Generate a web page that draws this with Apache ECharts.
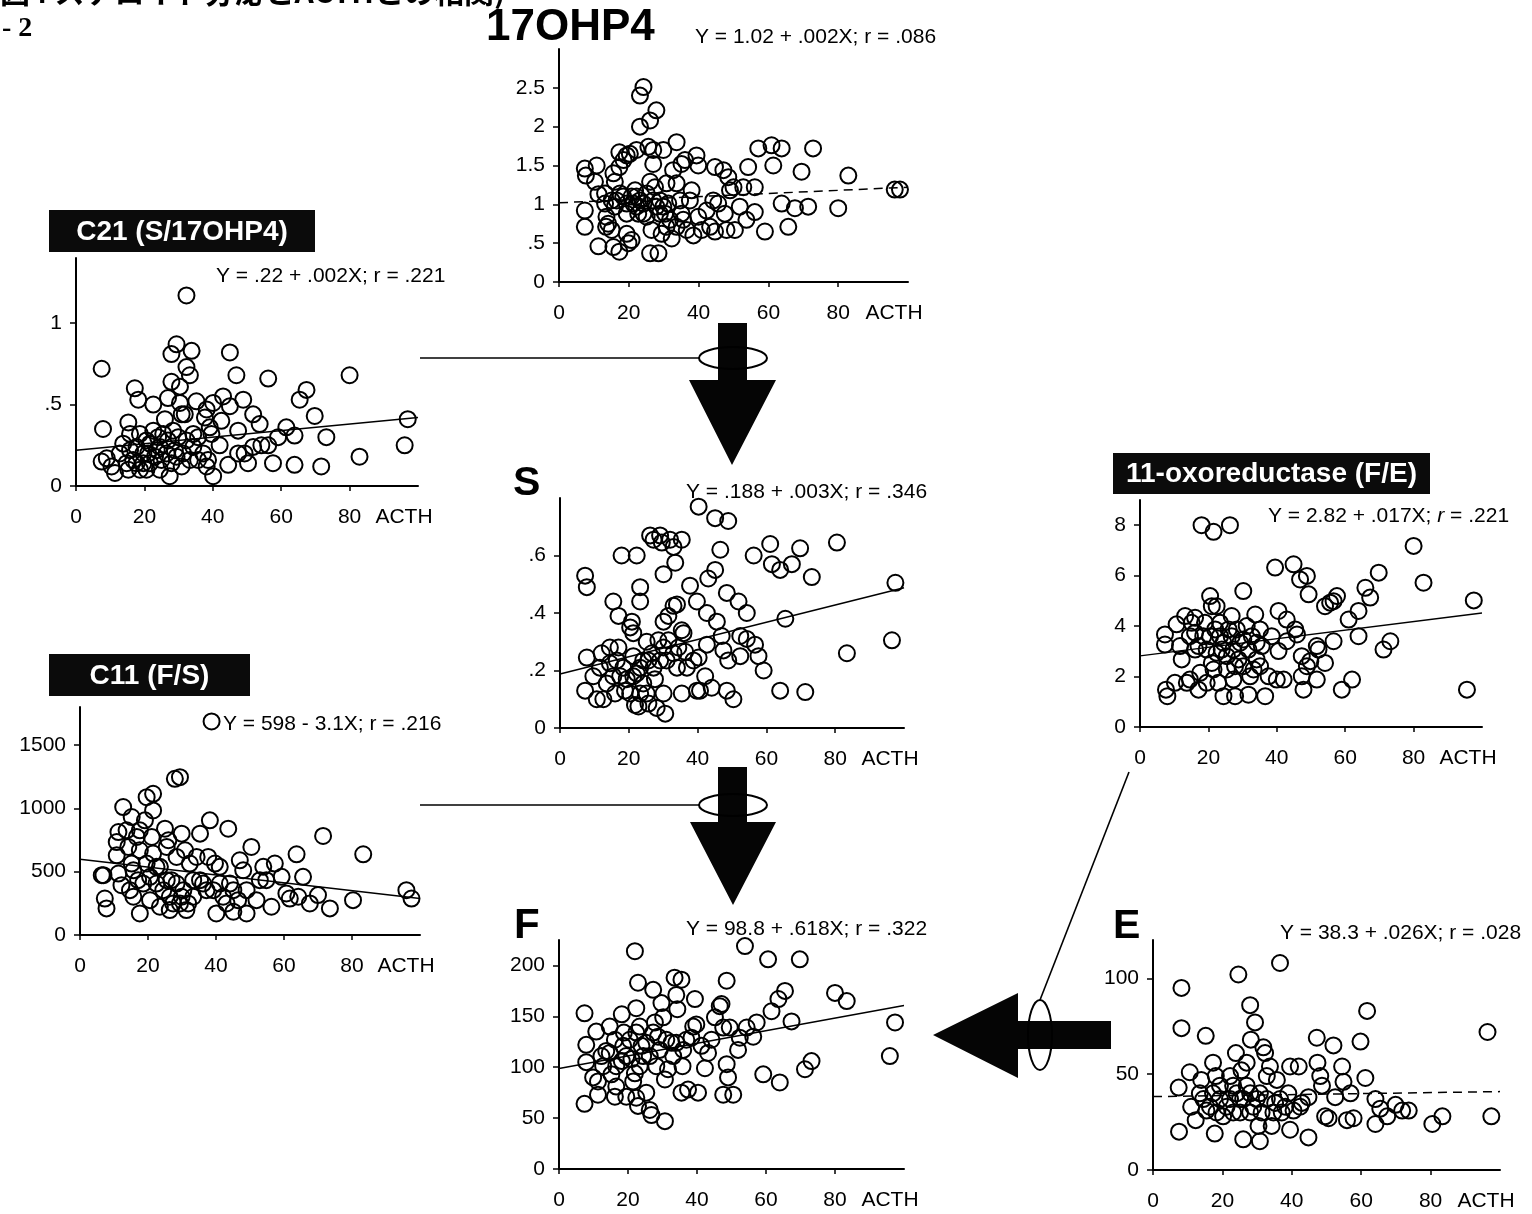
<!DOCTYPE html>
<html>
<head>
<meta charset="utf-8">
<script src="https://cdn.jsdelivr.net/npm/echarts@6/dist/echarts.min.js"></script>
<style>
html,body{margin:0;padding:0;background:#fff;overflow:hidden}
#chart{width:1532px;height:1214px}
</style>
</head>
<body>
<div id="chart"></div>
<script>
// ACTH (x) vs. hormone / enzyme-ratio (y) for each panel, as [ACTH, value] pairs.
const ohp17Points = [[7.4,1.46],[7.7,1.37],[7.4,0.92],[7.4,0.71],[10.8,1.50],[10.3,1.29],[11.3,1.13],[11.3,0.46],[13.2,1.14],[13.6,0.84],[14.1,0.75],[13.5,0.71],[15.1,0.67],[15.6,0.45],[17.3,0.39],[15.6,1.40],[16.0,1.29],[17.3,1.67],[17.3,1.48],[18.5,1.57],[19.4,1.63],[16.5,1.05],[16.0,0.97],[17.5,1.14],[19.4,1.01],[19.4,0.62],[19.9,0.50],[20.8,0.54],[20.3,1.65],[20.8,1.10],[21.8,1.18],[22.2,0.97],[22.2,1.70],[23.2,2.00],[23.2,2.40],[24.2,2.51],[23.2,1.05],[24.2,0.88],[25.1,1.14],[25.6,1.74],[26.1,2.08],[27.9,2.21],[27.0,1.70],[27.0,1.52],[26.1,1.29],[26.5,0.67],[26.1,0.37],[28.5,0.37],[27.9,0.97],[28.9,1.05],[29.9,1.70],[30.8,1.27],[30.4,0.88],[30.8,0.71],[32.3,0.56],[32.7,1.44],[33.7,1.80],[33.7,1.27],[34.7,1.05],[35.1,1.52],[35.6,0.80],[36.6,0.67],[36.1,1.57],[38.0,1.18],[38.5,0.60],[39.4,1.63],[39.9,1.50],[39.9,0.84],[40.9,0.67],[42.3,0.92],[43.3,0.71],[44.2,1.05],[44.7,1.48],[44.7,0.65],[45.6,1.01],[47.1,1.44],[47.5,0.88],[48.0,0.67],[48.5,1.35],[49.0,1.18],[50.0,1.22],[50.4,0.67],[51.8,0.97],[52.8,1.22],[53.7,0.80],[54.2,1.48],[56.1,1.22],[56.1,0.90],[57.1,1.72],[59.0,0.65],[60.9,1.76],[61.4,1.50],[63.8,1.72],[63.8,1.01],[65.7,0.71],[67.6,0.95],[69.5,1.42],[71.4,0.97],[72.8,1.72],[80.0,0.95],[82.9,1.37],[96.2,1.19],[97.7,1.19],[21.3,1.01],[22.2,1.10],[22.7,0.88],[24.2,1.01],[25.1,0.84],[27.0,1.05],[27.5,1.22],[28.9,0.88],[29.4,0.62],[29.9,0.97],[31.3,1.01],[31.8,0.80],[19.4,0.88],[18.4,1.10],[15.1,1.05],[13.2,1.01],[33.7,0.71],[35.1,0.88],[37.5,1.05]];

const c21Points = [[7.5,0.72],[7.9,0.35],[7.5,0.15],[9.0,0.17],[11.4,0.08],[10.4,0.12],[12.8,0.20],[15.3,0.39],[15.8,0.32],[17.2,0.60],[18.2,0.53],[14.8,0.14],[16.7,0.16],[17.7,0.24],[18.7,0.10],[19.7,0.20],[20.6,0.28],[21.6,0.14],[22.6,0.50],[22.6,0.34],[23.6,0.22],[24.5,0.10],[25.5,0.32],[26.0,0.41],[26.9,0.54],[27.4,0.06],[27.9,0.64],[27.9,0.81],[29.4,0.87],[28.4,0.34],[28.9,0.22],[30.4,0.61],[30.4,0.51],[30.9,0.44],[32.3,1.17],[32.3,0.73],[33.3,0.68],[33.8,0.83],[31.8,0.44],[32.3,0.28],[34.3,0.32],[35.2,0.52],[35.7,0.16],[37.7,0.42],[38.2,0.47],[38.6,0.16],[39.1,0.36],[39.6,0.32],[40.1,0.51],[40.1,0.06],[42.0,0.25],[42.5,0.40],[43.0,0.55],[44.5,0.13],[45.0,0.82],[45.0,0.49],[46.9,0.68],[47.4,0.34],[47.4,0.20],[48.9,0.53],[49.3,0.20],[50.3,0.14],[51.8,0.44],[51.8,0.24],[53.7,0.38],[54.2,0.25],[56.2,0.25],[56.2,0.66],[57.6,0.14],[59.1,0.30],[61.5,0.36],[63.9,0.31],[63.9,0.13],[65.4,0.53],[67.4,0.59],[69.8,0.43],[71.7,0.12],[73.2,0.30],[80.0,0.68],[82.9,0.18],[96.1,0.25],[97.0,0.41],[13.8,0.26],[15.8,0.22],[18.7,0.32],[19.7,0.14],[21.1,0.20],[23.1,0.18],[24.0,0.30],[25.0,0.16],[26.5,0.20],[27.9,0.14],[29.4,0.18],[30.9,0.12],[31.3,0.20],[33.3,0.16],[34.3,0.24],[35.7,0.30],[37.2,0.20],[38.2,0.12],[21.6,0.26],[17.7,0.14],[15.3,0.10],[20.6,0.10],[24.5,0.24],[26.9,0.28],[29.9,0.30]];

const sPoints = [[7.3,0.53],[7.8,0.49],[7.8,0.245],[7.3,0.13],[9.7,0.18],[10.7,0.10],[11.6,0.21],[12.1,0.26],[12.6,0.10],[13.6,0.155],[14.5,0.28],[15.5,0.44],[17.0,0.39],[16.0,0.12],[16.5,0.235],[17.5,0.18],[17.9,0.60],[18.9,0.13],[20.9,0.37],[21.3,0.33],[21.3,0.25],[21.8,0.08],[22.3,0.60],[23.3,0.49],[23.3,0.44],[23.3,0.21],[23.3,0.12],[25.2,0.30],[25.7,0.235],[26.2,0.67],[27.2,0.655],[27.6,0.17],[28.1,0.07],[29.1,0.67],[29.6,0.645],[30.1,0.535],[30.1,0.37],[30.1,0.28],[30.1,0.12],[30.6,0.05],[31.5,0.39],[32.0,0.655],[33.0,0.63],[33.0,0.425],[33.5,0.575],[34.0,0.43],[34.0,0.21],[35.4,0.655],[35.4,0.34],[35.4,0.12],[36.4,0.265],[37.8,0.495],[38.8,0.235],[39.8,0.13],[40.3,0.77],[39.8,0.44],[40.3,0.245],[40.7,0.13],[42.2,0.18],[42.7,0.40],[43.1,0.52],[42.7,0.29],[44.1,0.14],[45.1,0.55],[45.1,0.73],[45.6,0.37],[46.6,0.62],[47.0,0.32],[47.5,0.27],[48.5,0.47],[48.5,0.13],[48.9,0.72],[48.9,0.235],[50.4,0.10],[51.9,0.44],[52.4,0.25],[52.4,0.32],[54.3,0.40],[54.3,0.31],[56.3,0.60],[56.7,0.29],[57.7,0.25],[59.2,0.20],[61.1,0.64],[61.6,0.57],[64.0,0.55],[64.0,0.13],[65.5,0.38],[67.4,0.57],[69.8,0.625],[71.3,0.125],[73.2,0.525],[80.5,0.645],[83.4,0.26],[96.5,0.305],[97.5,0.505],[14.5,0.225],[15.5,0.18],[17.0,0.28],[18.4,0.21],[19.4,0.17],[20.4,0.12],[22.3,0.19],[24.2,0.235],[24.2,0.155],[25.2,0.12],[26.7,0.26],[27.2,0.21],[28.6,0.305],[29.1,0.235],[31.0,0.235],[31.5,0.305],[33.0,0.26],[34.4,0.28],[35.9,0.33],[36.9,0.21],[20.4,0.35],[21.3,0.18],[22.8,0.075],[25.7,0.085]];

const oxoPoints = [[7.3,3.67],[7.3,3.27],[7.6,1.48],[8.0,1.22],[10.2,1.75],[10.7,4.07],[11.7,3.21],[12.2,2.68],[13.2,4.40],[13.7,1.75],[14.6,1.88],[15.1,4.13],[16.1,4.33],[16.1,3.07],[17.1,1.48],[17.6,2.15],[18.0,8.00],[18.5,3.60],[20.5,5.19],[21.0,4.79],[21.5,7.74],[22.0,3.87],[22.4,4.79],[22.4,2.94],[22.9,1.75],[23.4,4.13],[23.9,3.07],[24.4,1.22],[25.4,2.28],[26.3,8.00],[26.8,4.40],[26.8,3.60],[27.3,1.88],[27.8,1.22],[28.8,2.68],[29.3,3.34],[30.2,5.39],[30.2,2.41],[31.2,4.00],[31.7,1.28],[32.2,2.01],[33.7,4.46],[34.1,2.68],[35.1,3.87],[35.6,3.21],[36.6,1.22],[37.6,2.01],[38.5,3.60],[39.5,6.32],[40.0,1.88],[40.5,4.60],[40.5,3.01],[42.0,1.88],[42.9,4.26],[42.9,3.40],[44.9,6.45],[45.4,3.87],[45.9,3.67],[46.8,5.85],[47.3,2.81],[47.3,2.01],[47.8,1.48],[48.8,5.99],[48.8,2.41],[49.3,5.26],[49.8,2.61],[51.7,3.21],[52.2,3.07],[51.7,1.88],[54.1,2.54],[54.1,4.79],[55.6,4.93],[56.6,4.99],[57.6,5.19],[56.6,3.40],[59.0,1.48],[61.0,4.26],[62.0,1.88],[63.9,3.60],[63.9,4.60],[65.9,5.52],[67.3,5.13],[69.8,6.12],[71.2,3.07],[73.2,3.40],[80.0,7.18],[82.9,5.72],[95.6,1.48],[97.6,5.02],[14.6,3.60],[16.1,3.74],[17.1,3.21],[19.0,4.13],[19.5,3.07],[20.5,3.60],[21.0,2.54],[23.4,3.60],[24.4,3.34],[25.4,2.81],[25.9,3.87],[27.3,3.07],[27.8,2.41],[28.3,3.87],[30.2,3.47],[31.7,3.07],[32.7,3.60],[33.2,2.28],[34.1,3.34],[35.1,2.41],[19.5,1.75],[21.5,2.28]];

const c11Points = [[6.9,472],[6.4,472],[7.3,288],[7.8,210],[11.3,813],[10.8,734],[10.8,629],[11.3,485],[12.2,393],[12.7,1010],[14.2,695],[14.7,354],[15.2,931],[15.2,564],[15.7,302],[17.1,433],[17.6,170],[17.6,826],[19.1,905],[19.6,1088],[21.5,1115],[21.5,983],[21.1,774],[20.6,275],[21.5,643],[22.5,538],[22.5,406],[23.5,223],[25.0,839],[26.0,748],[25.5,695],[26.4,197],[26.9,433],[27.9,1233],[29.4,1246],[28.4,616],[29.9,800],[30.9,669],[30.4,354],[31.3,197],[32.3,564],[33.3,433],[34.3,616],[35.3,800],[36.2,406],[37.7,616],[38.2,905],[39.7,564],[40.1,170],[41.1,538],[42.1,302],[43.6,839],[44.1,406],[45.1,184],[46.5,275],[47.0,590],[48.0,511],[49.0,170],[49.0,354],[50.4,695],[51.9,275],[52.9,433],[53.9,538],[54.8,433],[56.3,223],[57.3,564],[59.3,459],[60.7,328],[61.7,288],[63.7,637],[64.2,302],[65.6,459],[67.6,249],[70.0,315],[71.5,782],[73.5,210],[80.3,275],[83.3,637],[96.0,354],[97.5,288],[38.7,1686],[15.7,511],[17.6,669],[18.6,406],[19.6,564],[20.6,459],[23.5,538],[24.5,354],[25.5,433],[26.4,302],[27.4,249],[28.4,406],[29.4,249],[29.9,302],[31.8,249],[33.3,302],[35.3,433],[37.2,354],[39.2,354],[41.1,406],[43.1,249],[45.1,354],[13.7,826],[16.7,774]];

const fPoints = [[7.4,153],[7.4,64],[7.9,122],[7.9,105],[10.8,135],[9.9,90],[11.3,86],[11.3,73],[12.3,111],[13.7,116],[14.7,140],[15.2,93],[16.2,71],[16.6,81],[18.2,152],[18.8,134],[18.2,106],[19.5,71],[21.5,86],[22.0,214],[22.0,94],[22.4,70],[22.9,62],[22.4,158],[22.9,183],[23.4,140],[23.9,121],[24.4,111],[25.3,75],[26.3,58],[26.8,53],[27.3,176],[27.8,144],[28.2,101],[28.7,130],[29.7,163],[30.2,149],[30.7,47],[30.7,88],[31.6,98],[32.6,124],[33.5,188],[34.0,171],[34.3,157],[35.5,186],[35.5,75],[35.8,101],[37.4,78],[38.4,129],[39.4,167],[39.8,142],[40.3,75],[41.3,121],[42.3,99],[43.2,114],[44.2,127],[45.2,149],[46.6,160],[47.1,162],[47.6,139],[47.6,73],[48.6,185],[48.6,103],[49.0,90],[49.5,139],[50.5,73],[51.9,117],[52.4,129],[53.9,219],[54.4,139],[56.3,130],[57.3,144],[59.2,93],[60.6,206],[61.6,155],[63.6,167],[64.0,85],[65.5,175],[67.4,145],[69.8,206],[71.3,98],[73.2,106],[80.0,173],[83.4,165],[95.9,111],[97.4,144],[12.8,101],[14.7,114],[16.2,127],[16.6,101],[18.6,121],[19.5,111],[20.5,127],[21.0,108],[22.4,134],[23.4,101],[25.3,124],[26.3,111],[27.3,134],[29.2,117],[31.1,127],[33.1,111],[34.0,124],[36.0,117],[36.9,127],[38.9,140]];

const ePoints = [[7.4,43],[8.2,95],[8.2,74],[7.5,20],[10.6,51],[11.0,33],[12.3,26],[13.5,40],[13.9,47],[15.2,70],[15.4,31],[17.3,56],[17.8,19],[18.1,49],[19.3,37],[20.2,28],[22.2,49],[23.1,44],[23.9,61],[24.6,102],[25.1,37],[25.5,52],[26.0,16],[27.0,56],[28.0,86],[28.2,68],[29.4,77],[28.9,33],[30.4,23],[30.8,15],[31.8,64],[32.3,61],[32.8,49],[33.7,54],[34.2,23],[35.2,35],[35.7,47],[36.6,108],[37.1,30],[39.0,40],[39.5,54],[39.5,21],[42.0,54],[42.9,35],[44.8,38],[44.8,17],[47.2,69],[47.4,56],[48.2,49],[48.7,44],[49.6,28],[50.6,27],[52.0,65],[52.5,38],[54.5,54],[54.9,46],[55.9,26],[56.9,40],[57.8,27],[59.8,67],[61.2,48],[61.7,83],[64.1,37],[64.1,24],[65.5,32],[67.5,28],[69.9,34],[71.8,31],[73.7,31],[80.5,24],[83.4,28],[96.4,72],[97.5,28],[14.5,37],[16.4,33],[17.3,40],[18.3,30],[19.3,44],[21.2,33],[22.2,37],[23.1,30],[24.1,40],[25.1,30],[26.0,37],[27.0,44],[28.0,40],[28.0,30],[29.9,37],[30.8,40],[31.3,30],[32.8,37],[34.7,30],[36.6,37],[38.1,33],[40.5,31],[42.4,33]];

// Regression fits printed on each panel: Y = intercept + slope * ACTH
const fitIntercepts = { ohp17: 1.02, c21: 0.22, s: 0.188, oxo: 2.82, c11: 598, f: 98.8, e: 38.3 };
const fitSlopes     = { ohp17: 0.002, c21: 0.002, s: 0.003, oxo: 0.017, c11: -3.1, f: 0.618, e: 0.026 };

// Axis tick values
const acthTicks = [0, 20, 40, 60, 80];
const yTicks = {
  ohp17: [0, 0.5, 1, 1.5, 2, 2.5],
  c21: [0, 0.5, 1],
  s: [0, 0.2, 0.4, 0.6],
  oxo: [0, 2, 4, 6, 8],
  c11: [0, 500, 1000, 1500],
  f: [0, 50, 100, 150, 200],
  e: [0, 50, 100]
};

const FONT = "'Liberation Sans', Arial, Helvetica, sans-serif";

// Layout of each scatter panel
const panels = [
  { key: 'ohp17', data: ohp17Points, grid: { left: 559, top: 49,  width: 349, height: 233 }, yMax: 3,    yStep: 0.5, dashed: true },
  { key: 'c21',   data: c21Points,   grid: { left: 76,  top: 258, width: 342, height: 228 }, yMax: 1.4,  yStep: 0.5, dashed: false },
  { key: 's',     data: sPoints,     grid: { left: 560, top: 498, width: 344, height: 230 }, yMax: 0.8,  yStep: 0.2, dashed: false },
  { key: 'oxo',   data: oxoPoints,   grid: { left: 1140, top: 500, width: 342, height: 227 }, yMax: 9,   yStep: 2,   dashed: false },
  { key: 'c11',   data: c11Points,   grid: { left: 80,  top: 707, width: 340, height: 228 }, yMax: 1800, yStep: 500, dashed: false },
  { key: 'f',     data: fPoints,     grid: { left: 559, top: 940, width: 345, height: 229 }, yMax: 225,  yStep: 50,  dashed: false },
  { key: 'e',     data: ePoints,     grid: { left: 1153, top: 940, width: 347, height: 230 }, yMax: 120, yStep: 50,  dashed: true }
];

function fmtY(labelMax) {
  return function (v) {
    if (v > labelMax + 1e-9) return '';
    if (Math.abs(v) < 1e-9) return '0';
    return String(Math.round(v * 1000) / 1000).replace(/^0\./, '.');
  };
}

const grids = [], xAxes = [], yAxes = [], series = [];
panels.forEach(function (p, i) {
  grids.push(Object.assign({ containLabel: false }, p.grid));
  xAxes.push({
    type: 'value', gridIndex: i, min: 0, max: 100, interval: 20,
    axisLine: { onZero: false, lineStyle: { color: '#000', width: 2 } },
    axisTick: { length: 5, lineStyle: { color: '#000', width: 1.5 }, customValues: acthTicks },
    axisLabel: {
      customValues: acthTicks.concat([100]),
      color: '#000', fontSize: 21, fontFamily: FONT, margin: 21,
      formatter: function (v) { return v >= 100 ? '{n|ACTH}' : (v > 80 ? '' : String(v)); },
      rich: { n: { fontSize: 21, fontFamily: FONT, color: '#000', padding: [0, 28, 0, 0] } }
    },
    splitLine: { show: false }
  });
  const ticks = yTicks[p.key];
  yAxes.push({
    type: 'value', gridIndex: i, min: 0, max: p.yMax, interval: p.yStep,
    axisLine: { show: true, lineStyle: { color: '#000', width: 2 } },
    axisTick: { show: true, length: 6, lineStyle: { color: '#000', width: 1.5 }, customValues: ticks },
    axisLabel: {
      customValues: ticks,
      color: '#000', fontSize: 21, fontFamily: FONT, margin: 14,
      formatter: fmtY(ticks[ticks.length - 1])
    },
    splitLine: { show: false }
  });
  const a = fitIntercepts[p.key], b = fitSlopes[p.key];
  series.push({
    type: 'line', xAxisIndex: i, yAxisIndex: i, z: 2, silent: true,
    data: [[0, a], [100, a + 100 * b]],
    symbol: 'none',
    lineStyle: { color: '#000', width: 1.5, type: p.dashed ? [9, 6] : 'solid' }
  });
  series.push({
    type: 'scatter', xAxisIndex: i, yAxisIndex: i, z: 3, silent: true,
    data: p.data, symbol: 'circle', symbolSize: 16,
    itemStyle: { color: 'rgba(255,255,255,0)', borderColor: '#000', borderWidth: 2, opacity: 1 }
  });
});

function txt(x, y, text, font, extra) {
  return Object.assign({
    type: 'text', x: x, y: y, z: 10, silent: true,
    style: Object.assign({
      text: text, font: font, fill: '#000',
      textAlign: 'left', align: 'left',
      textVerticalAlign: 'middle', verticalAlign: 'middle'
    }, extra || {})
  });
}

function labelBox(x, y, w, h, text) {
  return {
    type: 'group', z: 10, silent: true,
    children: [
      { type: 'rect', shape: { x: x, y: y, width: w, height: h }, style: { fill: '#0b0b0b' } },
      txt(x + w / 2, y + h / 2 + 1, text, 'bold 28px ' + FONT, { fill: '#fff', textAlign: 'center', align: 'center' })
    ]
  };
}

const eq = '21px ' + FONT;
const graphics = [
  // running heading (partly above the page edge)
  txt(0, -8, '図4 ステロイド分泌とACTHとの相関)', 'bold 30px "Noto Sans CJK JP", sans-serif'),
  txt(2, 29, '- 2', 'bold 28px "Liberation Serif", "DejaVu Serif", serif'),

  // panel titles
  txt(486, 28, '17OHP4', 'bold 44px ' + FONT),
  txt(513, 484, 'S', 'bold 41px ' + FONT),
  txt(514, 926, 'F', 'bold 42px ' + FONT),
  txt(1113, 927, 'E', 'bold 41px ' + FONT),
  labelBox(49, 210, 266, 42, 'C21 (S/17OHP4)'),
  labelBox(1113, 453, 317, 41, '11-oxoreductase (F/E)'),
  labelBox(49, 654, 201, 42, 'C11 (F/S)'),

  // regression equations
  txt(695, 37, 'Y = 1.02 + .002X; r = .086', eq),
  txt(216, 276, 'Y = .22 + .002X; r = .221', eq),
  txt(686, 492, 'Y = .188 + .003X; r = .346', eq),
  txt(1268, 516, 'Y = 2.82 + .017X; {i|r} = .221', eq, { rich: { i: { font: 'italic 21px ' + FONT, fill: '#000' } } }),
  txt(223, 724, 'Y = 598 - 3.1X; r = .216', eq),
  txt(686, 929, 'Y = 98.8 + .618X; r = .322', eq),
  txt(1280, 933, 'Y = 38.3 + .026X; r = .028', eq),

  // pathway arrows: 17OHP4 -> S (C21), S -> F (C11), E -> F (11-oxoreductase)
  { type: 'line', z: 5, shape: { x1: 420, y1: 358, x2: 700, y2: 358 }, style: { stroke: '#000', lineWidth: 1.6 } },
  { type: 'polygon', z: 6, shape: { points: [[718,323],[747,323],[747,380],[776,380],[732,465],[689,380],[718,380]] }, style: { fill: '#050505' } },
  { type: 'ellipse', z: 7, shape: { cx: 733, cy: 358, rx: 34, ry: 11 }, style: { fill: 'transparent', stroke: '#000', lineWidth: 2 } },

  { type: 'line', z: 5, shape: { x1: 420, y1: 805, x2: 700, y2: 805 }, style: { stroke: '#000', lineWidth: 1.6 } },
  { type: 'polygon', z: 6, shape: { points: [[718,767],[747,767],[747,822],[776,822],[733,905],[690,822],[718,822]] }, style: { fill: '#050505' } },
  { type: 'ellipse', z: 7, shape: { cx: 733, cy: 805, rx: 34, ry: 11 }, style: { fill: 'transparent', stroke: '#000', lineWidth: 2 } },

  { type: 'line', z: 5, shape: { x1: 1040, y1: 1000, x2: 1129, y2: 772 }, style: { stroke: '#000', lineWidth: 1.6 } },
  { type: 'polygon', z: 6, shape: { points: [[1111,1021],[1111,1049],[1018,1049],[1018,1078],[933,1035],[1018,993],[1018,1021]] }, style: { fill: '#050505' } },
  { type: 'ellipse', z: 7, shape: { cx: 1040, cy: 1035, rx: 12, ry: 35 }, style: { fill: 'transparent', stroke: '#000', lineWidth: 2 } }
];

const chart = echarts.init(document.getElementById('chart'), null, { renderer: 'canvas' });
chart.setOption({
  backgroundColor: '#fff',
  animation: false,
  grid: grids,
  xAxis: xAxes,
  yAxis: yAxes,
  series: series,
  graphic: graphics
});
</script>
</body>
</html>
